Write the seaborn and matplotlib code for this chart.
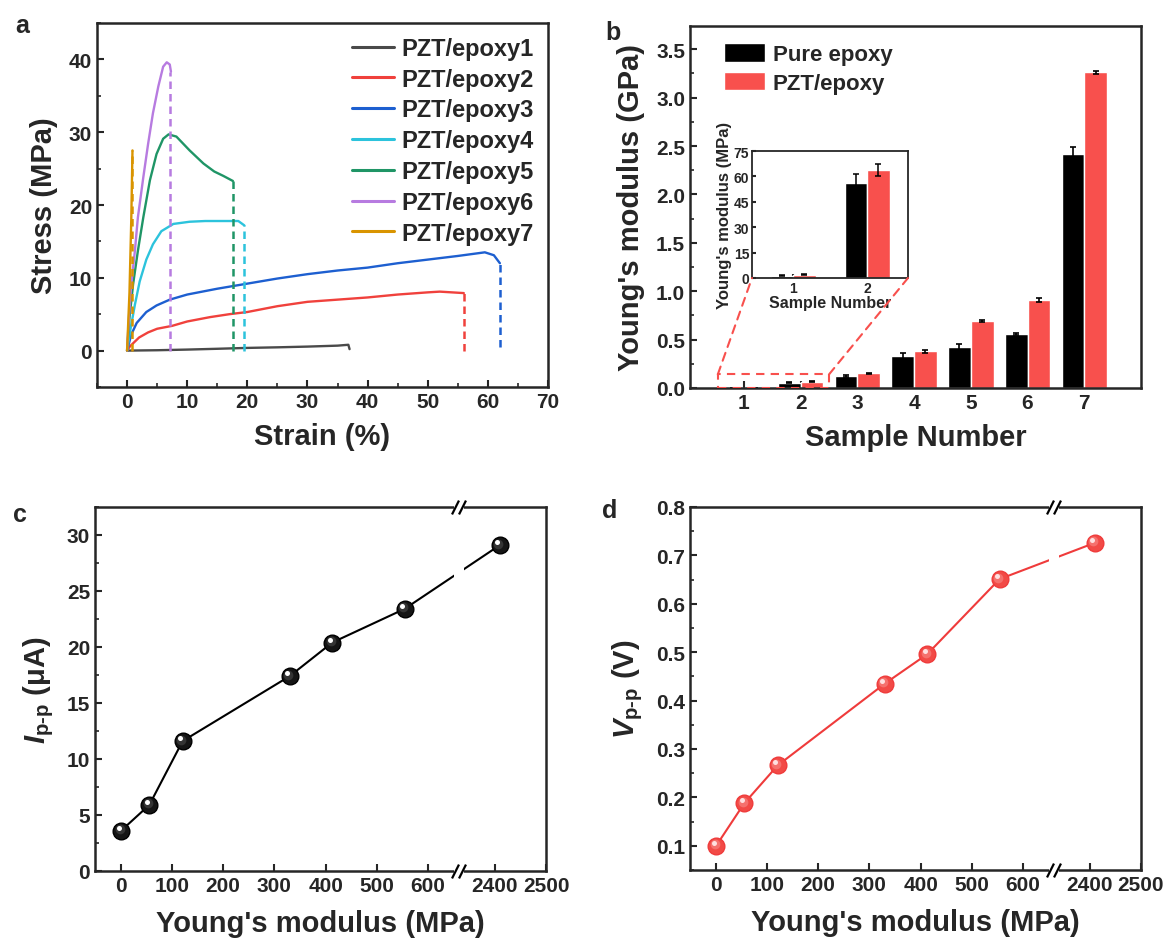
import numpy as np
import pandas as pd
import matplotlib
matplotlib.use("Agg")
import matplotlib.pyplot as plt
import seaborn as sns
from matplotlib.patches import Rectangle, ConnectionPatch
from matplotlib.ticker import MultipleLocator
from matplotlib.transforms import offset_copy, blended_transform_factory

# ---- (a) stress-strain curves ----
strain_1 = [0, 5, 10, 15, 20, 25, 30, 35, 36.8, 37.0]
stress_1 = [0, 0.05, 0.14, 0.25, 0.37, 0.45, 0.55, 0.68, 0.8, 0.2]
strain_2 = [0, 0.5, 1, 2, 3.5, 5, 7.5, 10, 13.8, 17, 20, 25, 30, 35, 40, 45, 50, 52, 54, 56]
stress_2 = [0, 0.6, 1.0, 1.8, 2.5, 3.0, 3.4, 4.0, 4.6, 5.0, 5.3, 6.1, 6.7, 7.0, 7.3, 7.7, 8.0, 8.1, 8.0, 7.9]
strain_3 = [0, 0.7, 1.6, 3.2, 4.9, 7.1, 10, 15, 20, 25, 30, 35, 40, 45, 50, 55, 59.5, 61, 62]
stress_3 = [0, 2.2, 3.8, 5.3, 6.2, 7.0, 7.7, 8.5, 9.2, 9.9, 10.5, 11.0, 11.4, 12.0, 12.5, 13.0, 13.5, 13.1, 12.0]
strain_4 = [0, 0.6, 1.3, 2.1, 3.2, 4.3, 5.7, 7.7, 10.4, 13, 16, 18.5, 19.5]
stress_4 = [0, 3.1, 6.3, 9.5, 12.5, 14.6, 16.4, 17.4, 17.7, 17.8, 17.8, 17.8, 17.2]
strain_5 = [0, 0.4, 1.0, 1.8, 2.7, 3.8, 4.9, 6.0, 6.9, 8.2, 10.4, 12.7, 14.5, 16.0, 17.6]
stress_5 = [0, 4.5, 9.1, 13.7, 18.3, 23.4, 27.0, 29.1, 29.7, 29.4, 27.5, 25.7, 24.6, 24.0, 23.3]
strain_6 = [0, 0.3, 0.7, 1.3, 1.8, 2.7, 3.5, 4.3, 5.2, 6.0, 6.6, 7.1, 7.3]
stress_6 = [0, 4.5, 9.1, 13.7, 18.3, 23.8, 28.4, 32.6, 36.3, 39.0, 39.6, 39.3, 38.3]
strain_7 = [0, 0.4, 0.7, 0.9]
stress_7 = [0, 8, 18, 27.5]

sample_names = ["PZT/epoxy1", "PZT/epoxy2", "PZT/epoxy3", "PZT/epoxy4",
                "PZT/epoxy5", "PZT/epoxy6", "PZT/epoxy7"]
curve_colors = ["#4a4a4a", "#f0413c", "#1d5fd0", "#2cc3dc", "#1f9566", "#b77be0", "#d99400"]

# fracture drops (dashed)
break_strain = [None, 56.0, 62.0, 19.5, 17.6, 7.2, 0.9]
break_top = [None, 7.9, 12.0, 17.2, 23.3, 38.3, 27.5]
break_bottom = [None, 0.0, 0.5, 0.0, 0.0, 0.0, 0.0]

# ---- (b) Young's modulus, GPa ----
sample_numbers = ["1", "2", "3", "4", "5", "6", "7"]
pure_epoxy = [0.0014, 0.056, 0.125, 0.33, 0.42, 0.56, 2.42]
pzt_epoxy = [0.002, 0.064, 0.15, 0.38, 0.69, 0.91, 3.26]
pure_err = [0.0005, 0.0055, 0.008, 0.03, 0.03, 0.012, 0.07]
pzt_err = [0.0005, 0.0037, 0.008, 0.015, 0.01, 0.02, 0.015]

# inset, MPa
inset_numbers = ["1", "2"]
inset_pure = [1.4, 55.9]
inset_pzt = [2.0, 63.7]
inset_pure_err = [0.5, 5.5]
inset_pzt_err = [0.5, 3.7]

# ---- (c), (d) output vs modulus ----
modulus = [1, 56, 121, 330, 413, 554, 2410]
ipp = [3.6, 5.9, 11.6, 17.4, 20.4, 23.4, 29.1]
vpp = [0.100, 0.188, 0.266, 0.435, 0.496, 0.651, 0.726]

RED = "#f8504d"

sns.set_style("ticks")
plt.rcParams["font.family"] = ["Liberation Sans", "DejaVu Sans"]
plt.rcParams.update({
    "font.weight": "bold",
    "axes.labelweight": "bold",
    "axes.linewidth": 1.8,
    "xtick.direction": "in",
    "ytick.direction": "in",
    "xtick.major.width": 1.5,
    "ytick.major.width": 1.5,
    "xtick.minor.width": 1.2,
    "ytick.minor.width": 1.2,
    "xtick.major.size": 5,
    "ytick.major.size": 5,
    "xtick.minor.size": 3,
    "ytick.minor.size": 3,
    "xtick.labelsize": 15,
    "ytick.labelsize": 15,
    "axes.labelsize": 21,
    "mathtext.fontset": "custom",
    "mathtext.rm": "Liberation Sans:bold",
    "mathtext.it": "Liberation Sans:italic:bold",
    "mathtext.bf": "Liberation Sans:bold",
})

fig = plt.figure(figsize=(11.66, 9.45), dpi=100)
W, H = 1166, 945


def px_axes(l, t, r, b):
    return fig.add_axes([l / W, 1 - b / H, (r - l) / W, (b - t) / H])


ax_a = px_axes(97, 24, 548, 388)
ax_b = px_axes(690, 27, 1141, 389)
ax_c = px_axes(95, 508, 546, 872)
ax_d = px_axes(690, 508, 1141, 871)

# ---------------- panel a ----------------
strains = [strain_1, strain_2, strain_3, strain_4, strain_5, strain_6, strain_7]
stresses = [stress_1, stress_2, stress_3, stress_4, stress_5, stress_6, stress_7]
df_a = pd.concat([pd.DataFrame({"strain": s, "stress": t, "sample": n})
                  for s, t, n in zip(strains, stresses, sample_names)])
sns.lineplot(data=df_a, x="strain", y="stress", hue="sample", hue_order=sample_names,
             palette=dict(zip(sample_names, curve_colors)), sort=False, estimator=None,
             lw=1.7, ax=ax_a)
for xs, top, bot, col in zip(break_strain, break_top, break_bottom, curve_colors):
    if xs is not None:
        ax_a.vlines(xs, bot, top, colors=col, linestyles=(0, (3, 2)), lw=1.8)
ax_a.set_xlim(-5, 70)
ax_a.set_ylim(-5, 45)
ax_a.xaxis.set_major_locator(MultipleLocator(10))
ax_a.xaxis.set_minor_locator(MultipleLocator(5))
ax_a.yaxis.set_major_locator(MultipleLocator(10))
ax_a.yaxis.set_minor_locator(MultipleLocator(5))
ax_a.set_xlabel("Strain (%)", labelpad=8)
ax_a.set_ylabel("Stress (MPa)", labelpad=8)
h, l = ax_a.get_legend_handles_labels()
leg = ax_a.legend(h, l, loc="upper right", bbox_to_anchor=(0.968, 0.962), frameon=False,
                  fontsize=17, handlelength=1.8, handletextpad=0.3, labelspacing=0.33,
                  borderpad=0, borderaxespad=0)
for line in leg.get_lines():
    line.set_linewidth(2.2)

# ---------------- panel b ----------------
df_b = pd.DataFrame({
    "sample": sample_numbers * 2,
    "modulus": pure_epoxy + pzt_epoxy,
    "type": ["Pure epoxy"] * 7 + ["PZT/epoxy"] * 7,
})
sns.barplot(data=df_b, x="sample", y="modulus", hue="type", palette=["black", RED],
            width=0.8, saturation=1, errorbar=None, ax=ax_b)
for cont, errs in zip(ax_b.containers, [pure_err, pzt_err]):
    for bar, e in zip(cont, errs):
        ax_b.errorbar(bar.get_x() + bar.get_width() / 2, bar.get_height(), yerr=e,
                      color="black", capsize=2.5, lw=1.2, capthick=1.2)
ax_b.set_xlim(-0.95, 7.0)
ax_b.set_ylim(0, 3.74)
ax_b.yaxis.set_major_locator(MultipleLocator(0.5))
ax_b.yaxis.set_minor_locator(MultipleLocator(0.25))
ax_b.yaxis.set_major_formatter(matplotlib.ticker.FormatStrFormatter("%.1f"))
ax_b.set_xlabel("Sample Number", labelpad=8)
ax_b.set_ylabel("Young's modulus (GPa)", labelpad=8)
h, l = ax_b.get_legend_handles_labels()
ax_b.legend(h, l, loc="upper left", bbox_to_anchor=(0.075, 0.952), frameon=False,
            fontsize=16, handlelength=1.85, handleheight=0.9, handletextpad=0.35,
            labelspacing=0.3, borderpad=0, borderaxespad=0)

# zoom box around samples 1-2
ZOOM_X0, ZOOM_X1, ZOOM_TOP = -0.46, 1.5, 0.14
ax_b.add_patch(Rectangle((ZOOM_X0, 0), ZOOM_X1 - ZOOM_X0, ZOOM_TOP, fill=False, ec=RED,
                         lw=1.5, ls=(0, (4, 3)), zorder=5, transform=ax_b.transData))

ax_in = px_axes(752, 152, 908, 279)
df_in = pd.DataFrame({
    "sample": inset_numbers * 2,
    "modulus": inset_pure + inset_pzt,
    "type": ["Pure epoxy"] * 2 + ["PZT/epoxy"] * 2,
})
sns.barplot(data=df_in, x="sample", y="modulus", hue="type", palette=["black", RED],
            width=0.6, saturation=1, errorbar=None, legend=False, ax=ax_in)
for cont, errs in zip(ax_in.containers, [inset_pure_err, inset_pzt_err]):
    for bar, e in zip(cont, errs):
        ax_in.errorbar(bar.get_x() + bar.get_width() / 2, bar.get_height(), yerr=e,
                       color="black", capsize=2.5, lw=1.1, capthick=1.1)
ax_in.set_xlim(-0.56, 1.55)
ax_in.set_ylim(0, 75)
ax_in.yaxis.set_major_locator(MultipleLocator(15))
ax_in.tick_params(labelsize=10, length=3, pad=2)
for sp in ax_in.spines.values():
    sp.set_linewidth(1.3)
ax_in.set_xlabel("Sample Number", fontsize=11.5, labelpad=0)
ax_in.set_ylabel("Young's modulus (MPa)", fontsize=12, labelpad=1)

for xa, xb in [(ZOOM_X0, 0.0), (ZOOM_X1, 1.0)]:
    con = ConnectionPatch(xyA=(xa, ZOOM_TOP), coordsA=ax_b.transData,
                          xyB=(xb, 0.0), coordsB=ax_in.transAxes,
                          color=RED, lw=1.5, ls=(0, (4, 3)))
    fig.add_artist(con)

# ---------------- panels c, d (broken x axis) ----------------
BRK_LO, BRK_HI, BRK_GAP = 650.0, 2340.0, 20.0


def fwd(x):
    x = np.asarray(x, dtype=float)
    mid = BRK_LO + (x - BRK_LO) * BRK_GAP / (BRK_HI - BRK_LO)
    return np.where(x <= BRK_LO, x, np.where(x >= BRK_HI, x - BRK_HI + BRK_LO + BRK_GAP, mid))


def inv(t):
    t = np.asarray(t, dtype=float)
    mid = BRK_LO + (t - BRK_LO) * (BRK_HI - BRK_LO) / BRK_GAP
    return np.where(t <= BRK_LO, t, np.where(t >= BRK_LO + BRK_GAP, t - BRK_LO - BRK_GAP + BRK_HI, mid))


def style_broken(ax):
    ax.set_xscale("function", functions=(fwd, inv))
    ax.set_xlim(-50, 2500)
    ax.set_xticks([0, 100, 200, 300, 400, 500, 600, 2400, 2500])
    ax.axvspan(BRK_LO, BRK_HI, color="white", lw=0, zorder=2.2)
    tr = blended_transform_factory(ax.transData, ax.transAxes)
    x1 = float(inv(BRK_LO + 3))
    x2 = float(inv(BRK_LO + BRK_GAP - 3))
    for y in (0, 1):
        ax.plot([BRK_LO, BRK_HI], [y, y], color="white", lw=4, transform=tr,
                clip_on=False, zorder=6, solid_capstyle="butt")
        ax.plot([x1, x2], [y, y], ls="none", marker=[(-1, -2), (1, 2)], ms=10,
                mec="black", mew=1.6, transform=tr, clip_on=False, zorder=7)
    ax.set_xlabel("Young's modulus (MPa)", labelpad=10)


def spheres(ax, y, base, edge, mid, spot):
    sns.lineplot(x=modulus, y=y, color=edge, lw=1.5, sort=False, estimator=None, ax=ax)
    ax.plot(modulus, y, "o", ms=12, mfc=base, mec=edge, mew=1.0, zorder=3)
    ax.plot(modulus, y, "o", ms=7, mfc=mid, mec="none", alpha=0.8, zorder=3.1,
            transform=offset_copy(ax.transData, fig=fig, x=-1.5, y=1.5, units="dots"))
    ax.plot(modulus, y, "o", ms=3.6, mfc=spot, mec="none", zorder=3.2,
            transform=offset_copy(ax.transData, fig=fig, x=-2.5, y=3.0, units="dots"))


spheres(ax_c, ipp, "#151515", "black", "#3c3c3c", "white")
style_broken(ax_c)
ax_c.set_ylim(0, 32.5)
ax_c.yaxis.set_major_locator(MultipleLocator(5))
ax_c.yaxis.set_minor_locator(MultipleLocator(2.5))
ax_c.set_ylabel(r"$\mathit{I}_{\mathrm{p\text{-}p}}$ (μA)", labelpad=8)

spheres(ax_d, vpp, "#f24a46", "#ef3b3b", "#f77b78", "#ffe0e0")
style_broken(ax_d)
ax_d.set_ylim(0.05, 0.8)
ax_d.yaxis.set_major_locator(MultipleLocator(0.1))
ax_d.yaxis.set_minor_locator(MultipleLocator(0.05))
ax_d.set_ylabel(r"$\mathit{V}_{\mathrm{p\text{-}p}}$ (V)", labelpad=8)

for ax in (ax_a, ax_b, ax_c, ax_d):
    ax.tick_params(top=False, right=False, which="both")
    for sp in ax.spines.values():
        sp.set_visible(True)

for txt, x, y in [("a", 15, 33), ("b", 605, 40), ("c", 13, 522), ("d", 602, 518)]:
    fig.text(x / W, 1 - y / H, txt, fontsize=18, weight="bold", va="baseline", ha="left")

fig.savefig("out.png", dpi=100)
